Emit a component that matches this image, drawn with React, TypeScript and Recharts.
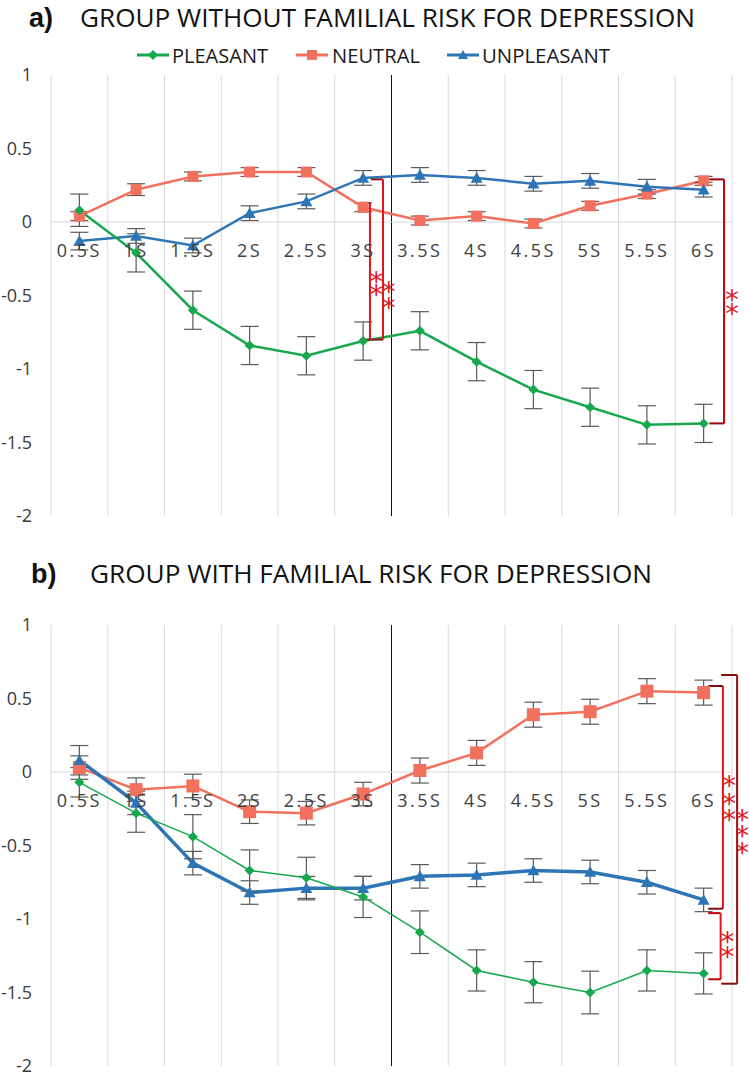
import React from 'react'
import {
    LineChart,
    Line,
    XAxis,
    YAxis,
    ErrorBar,
    ReferenceLine,
    ReferenceDot,
    Legend
} from 'recharts'

// categories (time after stimulus onset)
const categories = ['0.5S', '1S', '1.5S', '2S', '2.5S', '3S', '3.5S', '4S', '4.5S', '5S', '5.5S', '6S']
const yTicks = [-2, -1.5, -1, -0.5, 0, 0.5, 1]

// a) group without familial risk
const aPleasant = [0.08, -0.21, -0.6, -0.84, -0.91, -0.81, -0.74, -0.95, -1.14, -1.26, -1.38, -1.37]
const aPleasantErr = [0.11, 0.13, 0.13, 0.13, 0.13, 0.13, 0.13, 0.13, 0.13, 0.13, 0.13, 0.13]
const aNeutral = [0.04, 0.22, 0.31, 0.34, 0.34, 0.1, 0.01, 0.04, -0.01, 0.11, 0.19, 0.28]
const aNeutralErr = [0.03, 0.04, 0.03, 0.03, 0.03, 0.03, 0.03, 0.03, 0.03, 0.03, 0.03, 0.03]
const aUnpleasant = [-0.13, -0.095, -0.16, 0.06, 0.14, 0.3, 0.32, 0.3, 0.26, 0.28, 0.24, 0.22]
const aUnpleasantErr = [0.06, 0.05, 0.05, 0.05, 0.05, 0.05, 0.05, 0.05, 0.05, 0.05, 0.05, 0.05]

// b) group with familial risk
const bPleasant = [-0.07, -0.28, -0.44, -0.67, -0.72, -0.85, -1.09, -1.35, -1.43, -1.5, -1.35, -1.37]
const bPleasantErr = [0.1, 0.13, 0.15, 0.14, 0.14, 0.14, 0.145, 0.14, 0.14, 0.145, 0.14, 0.14]
const bNeutral = [0.03, -0.12, -0.095, -0.27, -0.28, -0.15, 0.01, 0.13, 0.39, 0.41, 0.55, 0.54]
const bNeutralErr = [0.08, 0.08, 0.08, 0.08, 0.08, 0.08, 0.085, 0.085, 0.085, 0.085, 0.085, 0.085]
const bUnpleasant = [0.08, -0.21, -0.62, -0.82, -0.79, -0.79, -0.71, -0.7, -0.67, -0.68, -0.75, -0.87]
const bUnpleasantErr = [0.1, 0.08, 0.08, 0.08, 0.08, 0.08, 0.08, 0.08, 0.08, 0.08, 0.08, 0.08]

// significance brackets, in data units (x = category index scale, y = value)
const aBrackets = [
    { xa: 5.45, xb: 5.62, top: 0.13, bottom: -0.8, starX: 5.73, starYs: [-0.36, -0.45], color: '#e3141b', capColor: '#8e1414' },
    { xa: 5.64, xb: 5.85, top: 0.29, bottom: -0.8, starX: 5.95, starYs: [-0.43, -0.54], color: '#e3141b', capColor: '#8e1414' },
    { xa: 11.6, xb: 11.86, top: 0.29, bottom: -1.37, starX: 12.0, starYs: [-0.48, -0.58], color: '#c0000b', capColor: '#a0000a' }
]
const bBrackets = [
    { xa: 11.58, xb: 11.84, top: 0.585, bottom: -0.93, starX: 11.95, starYs: [-0.05, -0.17, -0.28], color: '#e3141b', capColor: '#7d1010' },
    { xa: 11.58, xb: 11.8, top: -0.96, bottom: -1.41, starX: 11.92, starYs: [-1.11, -1.21], color: '#e3141b', capColor: '#c0000b' },
    { xa: 11.81, xb: 12.09, top: 0.66, bottom: -1.44, starX: 12.18, starYs: [-0.28, -0.39, -0.5], color: '#9a0d0d', capColor: '#7d1010' }
]

const GREEN = '#17a84e'
const SALMON = '#f2705e'
const BLUE = '#2e75b6'
const ERR = '#5a5a5a'
const GRID = '#d9d9d9'
const STAR = '#e3141b'

const Y_MIN = -2
const Y_MAX = 1
const PLOT_TOP = 75
const PLOT_H = 441
const X_AXIS_H = 30
const CHART_W = 749
const CHART_H = PLOT_TOP + PLOT_H + X_AXIS_H + 4

function buildRows(p: number[], pe: number[], n: number[], ne: number[], u: number[], ue: number[]) {
    return categories.map((c, i) => ({
        x: i + 0.5,
        label: c,
        pleasant: p[i],
        pleasantErr: pe[i],
        neutral: n[i],
        neutralErr: ne[i],
        unpleasant: u[i],
        unpleasantErr: ue[i]
    }))
}

const aRows = buildRows(aPleasant, aPleasantErr, aNeutral, aNeutralErr, aUnpleasant, aUnpleasantErr)
const bRows = buildRows(bPleasant, bPleasantErr, bNeutral, bNeutralErr, bUnpleasant, bUnpleasantErr)
const xTicks = categories.map((_, i) => i + 0.5)
const boundaries = [...categories.map((_, i) => i), categories.length]

const Diamond = ({ cx, cy, fill, r = 4.5 }: any) =>
    cx == null ? null : <path d={`M${cx},${cy - r} L${cx + r},${cy} L${cx},${cy + r} L${cx - r},${cy} Z`} fill={fill} />
const Square = ({ cx, cy, fill, r = 5.5 }: any) =>
    cx == null ? null : <rect x={cx - r} y={cy - r} width={r * 2} height={r * 2} fill={fill} />
const Triangle = ({ cx, cy, fill, r = 5.5 }: any) =>
    cx == null ? null : <path d={`M${cx},${cy - r} L${cx + r},${cy + r * 0.8} L${cx - r},${cy + r * 0.8} Z`} fill={fill} />

const CategoryTick = ({ x, y, payload }: any) => {
    // labels sit just under the zero line, like the Excel category axis
    const zeroFromBottom = (PLOT_H * (0 - Y_MIN)) / (Y_MAX - Y_MIN)
    const idx = Math.round(payload.value - 0.5)
    return (
        <text
            x={x}
            y={y - zeroFromBottom + 27}
            textAnchor="middle"
            fontFamily="'Open Sans', sans-serif"
            fontSize={18}
            letterSpacing={2.5}
            fill="#404040"
        >
            {categories[idx]}
        </text>
    )
}

const ValueTick = ({ x, y, payload }: any) => (
    <text x={x} y={y} dy={6} textAnchor="end" fontFamily="'Open Sans', sans-serif" fontSize={18} fill="#3a3a3a">
        {payload.value}
    </text>
)

const Star = ({ cx, cy }: any) =>
    cx == null ? null : (
        <text x={cx} y={cy + 16} textAnchor="middle" fontFamily="'DejaVu Sans', sans-serif" fontSize={27} fill={STAR}>
            *
        </text>
    )

const legendItems = [
    { name: 'PLEASANT', color: GREEN, shape: 'diamond', x: 137, tx: 172, w: 96 },
    { name: 'NEUTRAL', color: SALMON, shape: 'square', x: 296, tx: 332, w: 88 },
    { name: 'UNPLEASANT', color: BLUE, shape: 'triangle', x: 447, tx: 482, w: 128 }
]

const LegendContent = () => (
    <svg width={CHART_W} height={30} style={{ display: 'block' }}>
        {legendItems.map((it) => (
            <g key={it.name}>
                <line x1={it.x} x2={it.x + 32} y1={15} y2={15} stroke={it.color} strokeWidth={3} />
                {it.shape === 'diamond' && <Diamond cx={it.x + 16} cy={15} fill={it.color} r={5} />}
                {it.shape === 'square' && <Square cx={it.x + 16} cy={15} fill={it.color} r={5} />}
                {it.shape === 'triangle' && <Triangle cx={it.x + 16} cy={15} fill={it.color} r={5} />}
                <text
                    x={it.tx}
                    y={23}
                    fontFamily="'Open Sans', sans-serif"
                    fontSize={20}
                    fill="#1a1a1a"
                    textLength={it.w}
                    lengthAdjust="spacingAndGlyphs"
                >
                    {it.name}
                </text>
            </g>
        ))}
    </svg>
)

function renderBracket(b: any, k: number) {
    return [
        <ReferenceLine key={`t${k}`} segment={[{ x: b.xa, y: b.top }, { x: b.xb, y: b.top }]} stroke={b.capColor} strokeWidth={2} ifOverflow="visible" />,
        <ReferenceLine key={`v${k}`} segment={[{ x: b.xb, y: b.top }, { x: b.xb, y: b.bottom }]} stroke={b.color} strokeWidth={2} ifOverflow="visible" />,
        <ReferenceLine key={`b${k}`} segment={[{ x: b.xa, y: b.bottom }, { x: b.xb, y: b.bottom }]} stroke={b.capColor} strokeWidth={2} ifOverflow="visible" />,
        ...b.starYs.map((sy: number, j: number) => (
            <ReferenceDot key={`s${k}-${j}`} x={b.starX} y={sy} r={0} ifOverflow="visible" shape={(p: any) => <Star {...p} />} />
        ))
    ]
}

function EmotionChart({ rows, brackets, pleasantWidth, withLegend }: any) {
    return (
        <LineChart width={CHART_W} height={CHART_H} data={rows} margin={{ top: PLOT_TOP, right: 17, bottom: 4, left: 0 }}>
            <XAxis
                dataKey="x"
                type="number"
                domain={[0, categories.length]}
                ticks={xTicks}
                tick={<CategoryTick />}
                axisLine={false}
                tickLine={false}
                height={X_AXIS_H}
                interval={0}
            />
            <YAxis
                type="number"
                domain={[Y_MIN, Y_MAX]}
                ticks={yTicks}
                tick={<ValueTick />}
                axisLine={false}
                tickLine={false}
                width={51}
                tickMargin={13}
                interval={0}
            />
            {boundaries.map((bx) => (
                <ReferenceLine key={`g${bx}`} x={bx} stroke={bx === 6 ? '#111' : GRID} strokeWidth={1} />
            ))}
            <ReferenceLine y={0} stroke={GRID} strokeWidth={1} />
            {withLegend && (
                <Legend
                    verticalAlign="middle"
                    align="center"
                    layout="horizontal"
                    content={<LegendContent />}
                    wrapperStyle={{ top: 40, left: 0, width: CHART_W, height: 30 }}
                />
            )}
            <Line
                dataKey="neutral"
                stroke={SALMON}
                strokeWidth={2.5}
                dot={(p: any) => <Square key={`n${p.index}`} {...p} fill={SALMON} r={withLegend ? 5.5 : 6.5} />}
                activeDot={false}
                isAnimationActive={false}
            >
                <ErrorBar dataKey="neutralErr" width={9} stroke={ERR} strokeWidth={1.2} direction="y" />
            </Line>
            <Line
                dataKey="unpleasant"
                stroke={BLUE}
                strokeWidth={withLegend ? 2.5 : 3.5}
                dot={(p: any) => <Triangle key={`u${p.index}`} {...p} fill={BLUE} r={6} />}
                activeDot={false}
                isAnimationActive={false}
            >
                <ErrorBar dataKey="unpleasantErr" width={9} stroke={ERR} strokeWidth={1.2} direction="y" />
            </Line>
            <Line
                dataKey="pleasant"
                stroke={GREEN}
                strokeWidth={pleasantWidth}
                dot={(p: any) => <Diamond key={`p${p.index}`} {...p} fill={GREEN} r={5} />}
                activeDot={false}
                isAnimationActive={false}
            >
                <ErrorBar dataKey="pleasantErr" width={9} stroke={ERR} strokeWidth={1.2} direction="y" />
            </Line>
            {brackets.flatMap((b: any, k: number) => renderBracket(b, k))}
        </LineChart>
    )
}

const titleFont = "'Open Sans', sans-serif"

export default function App() {
    return (
        <div style={{ position: 'absolute', left: 0, top: 0, width: 749, height: 1076, background: '#fff', overflow: 'hidden' }}>
            <svg width={749} height={1076} style={{ position: 'absolute', left: 0, top: 0 }}>
                <text x={29} y={27} fontFamily="'Liberation Sans', Arial, sans-serif" fontWeight="bold" fontSize={27} fill="#111">
                    a)
                </text>
                <text x={80} y={27} fontFamily={titleFont} fontSize={26} fill="#111" textLength={615} lengthAdjust="spacingAndGlyphs">
                    GROUP WITHOUT FAMILIAL RISK FOR DEPRESSION
                </text>
                <text x={31} y={583} fontFamily="'Liberation Sans', Arial, sans-serif" fontWeight="bold" fontSize={27} fill="#111">
                    b)
                </text>
                <text x={90} y={583} fontFamily={titleFont} fontSize={26} fill="#111" textLength={562} lengthAdjust="spacingAndGlyphs">
                    GROUP WITH FAMILIAL RISK FOR DEPRESSION
                </text>
            </svg>
            <div style={{ position: 'absolute', left: 0, top: 0 }}>
                <EmotionChart rows={aRows} brackets={aBrackets} pleasantWidth={2.5} withLegend />
            </div>
            <div style={{ position: 'absolute', left: 0, top: 550 }}>
                <EmotionChart rows={bRows} brackets={bBrackets} pleasantWidth={1.5} withLegend={false} />
            </div>
        </div>
    )
}
